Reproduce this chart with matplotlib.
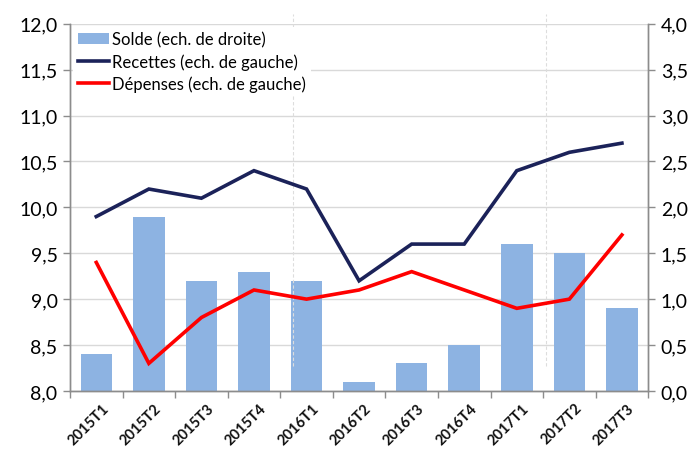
import matplotlib
matplotlib.use("Agg")
import matplotlib.pyplot as plt
from matplotlib.patches import Patch
from matplotlib.lines import Line2D
import numpy as np

categories = ["2015T1", "2015T2", "2015T3", "2015T4", "2016T1", "2016T2",
              "2016T3", "2016T4", "2017T1", "2017T2", "2017T3"]
solde = [0.4, 1.9, 1.2, 1.3, 1.2, 0.1, 0.3, 0.5, 1.6, 1.5, 0.9]
recettes = [9.9, 10.2, 10.1, 10.4, 10.2, 9.2, 9.6, 9.6, 10.4, 10.6, 10.7]
depenses = [9.4, 8.3, 8.8, 9.1, 9.0, 9.1, 9.3, 9.1, 8.9, 9.0, 9.7]
left_ticks = [8.0, 8.5, 9.0, 9.5, 10.0, 10.5, 11.0, 11.5, 12.0]
right_ticks = [0.0, 0.5, 1.0, 1.5, 2.0, 2.5, 3.0, 3.5, 4.0]

plt.rcParams['font.family'] = ['Lato', 'DejaVu Sans']

fig = plt.figure(figsize=(7, 4.6), dpi=100)
ax = fig.add_axes([0.1, 0.148, 0.826, 0.798])
ax2 = ax.twinx()

x = np.arange(len(categories))
grey = "#8c8c8c"
gridc = "#d9d9d9"

# bars on right axis
ax2.bar(x, solde, width=0.6, color="#8DB3E2", zorder=2)
ax2.set_ylim(0, 4)
ax2.set_yticks(right_ticks)
ax2.set_yticklabels([f"{v:.1f}".replace(".", ",") for v in right_ticks])
for v in right_ticks:
    ax2.axhline(v, color=gridc, lw=1.0, zorder=1)

# lines on left axis
ax.set_zorder(ax2.get_zorder() + 1)
ax.patch.set_visible(False)
ax.plot(x, recettes, color="#1B2259", lw=2.6, solid_joinstyle="miter", zorder=3)
ax.plot(x, depenses, color="#FF0000", lw=2.6, solid_joinstyle="miter", zorder=3)
ax.set_ylim(8, 12)
ax.set_xlim(-0.5, len(categories) - 0.5)
ax.set_yticks(left_ticks)
ax.set_yticklabels([f"{v:.1f}".replace(".", ",") for v in left_ticks])

# faint dashed vertical markers
for xv in [3.75, 8.55]:
    ax.plot([xv, xv], [8.27, 12.11], color="#dddddd", lw=0.8, ls=(0, (3, 2)),
            clip_on=False, zorder=0.5)

ax.set_xticks(x + 0.1)
ax.set_xticklabels(categories, rotation=45, ha="right", rotation_mode="anchor",
                   fontsize=10.5, fontweight="bold", color="#111111")
ax.set_xticks(np.arange(-0.5, len(categories)), minor=True)
ax.tick_params(axis="x", which="major", length=0, pad=7)
ax.tick_params(axis="x", which="minor", length=5, color=grey, width=1)
ax.tick_params(axis="y", labelsize=14, length=5, color=grey, width=1, pad=4)
ax2.tick_params(axis="y", labelsize=14, length=5, color=grey, width=1, pad=4)

for a in (ax, ax2):
    a.spines["top"].set_visible(False)
    for s in ("left", "right", "bottom"):
        a.spines[s].set_color(grey)
        a.spines[s].set_linewidth(1.0)

handles = [Patch(facecolor="#8DB3E2", edgecolor="none"),
           Line2D([], [], color="#1B2259", lw=2.6),
           Line2D([], [], color="#FF0000", lw=2.6)]
labels = ["Solde (ech. de droite)", "Recettes (ech. de gauche)",
          "Dépenses (ech. de gauche)"]
leg = ax.legend(handles, labels, loc="upper left", bbox_to_anchor=(0.0, 1.0),
                fontsize=12, frameon=True, framealpha=1, edgecolor="none",
                facecolor="white", fancybox=False, handlelength=1.9,
                handletextpad=0.2, labelspacing=0.35, borderpad=0.25,
                borderaxespad=0.2)
leg.set_zorder(10)

fig.savefig("out.png", dpi=100)
